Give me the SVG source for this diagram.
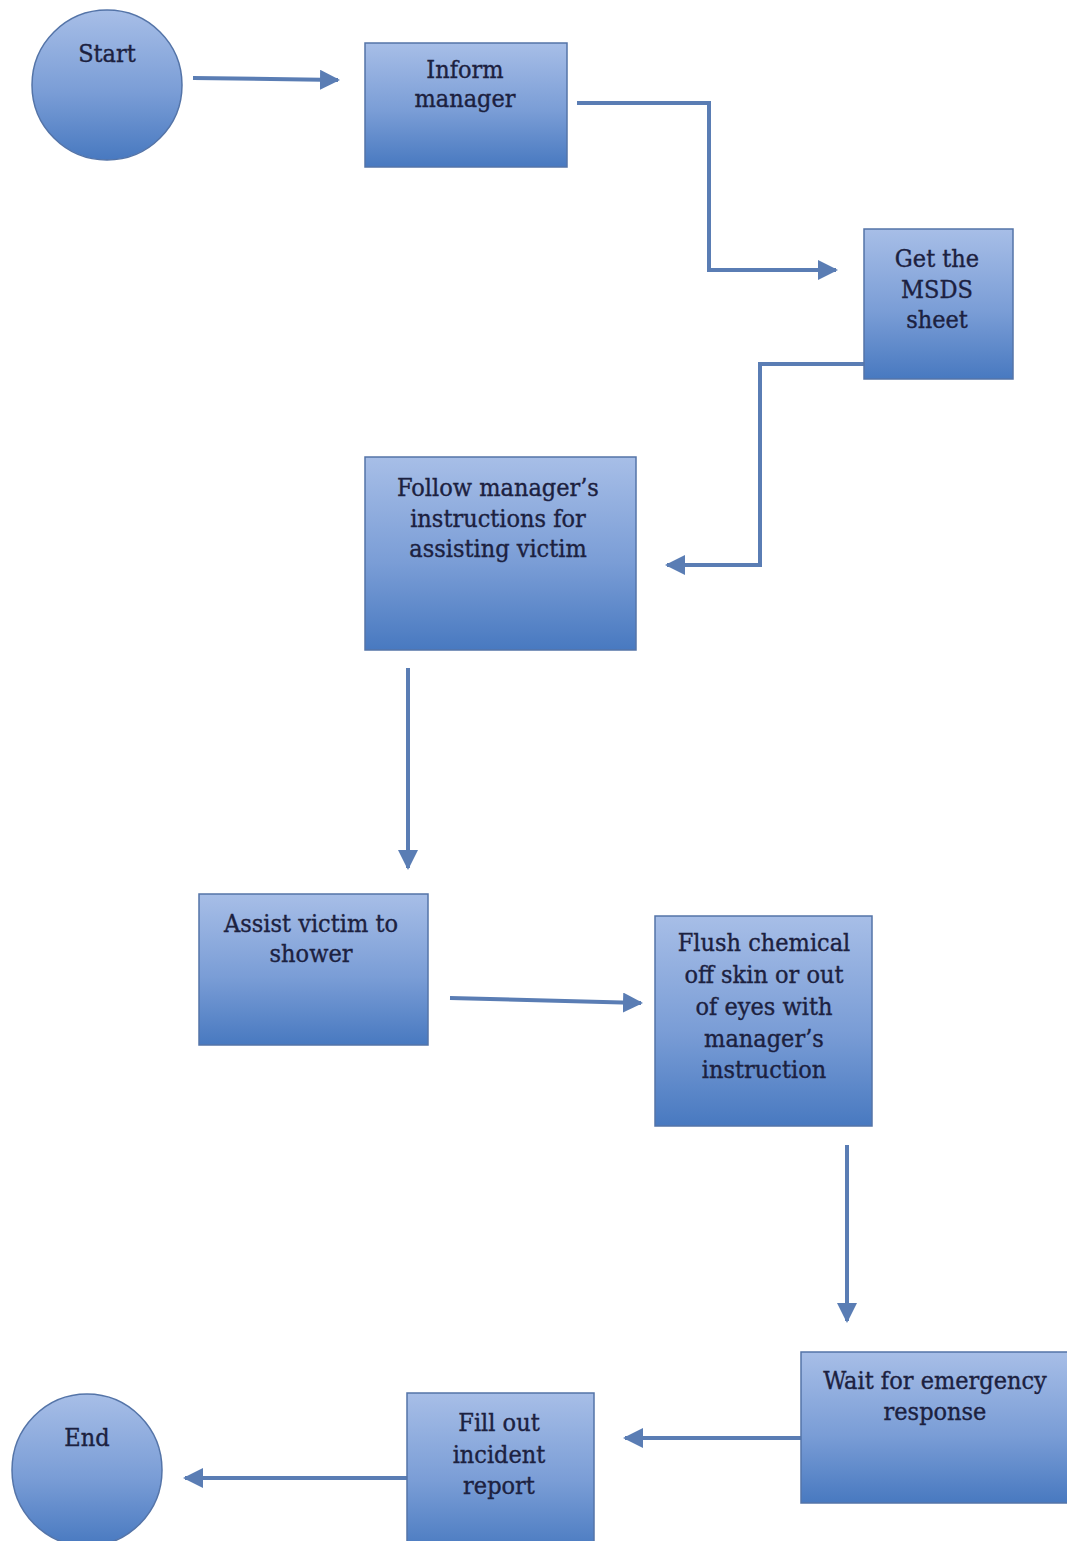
<svg xmlns="http://www.w3.org/2000/svg" width="1067" height="1541" viewBox="0 0 1067 1541">
  <defs>
    <linearGradient id="fillBlue" x1="0" y1="0" x2="0" y2="1">
      <stop offset="0" stop-color="#a7bee7"/>
      <stop offset="0.55" stop-color="#7a9dd6"/>
      <stop offset="1" stop-color="#4879c0"/>
    </linearGradient>
    <marker id="arrow" viewBox="0 0 10 10" refX="9" refY="5" markerWidth="5" markerHeight="5" orient="auto" markerUnits="strokeWidth">
      <path d="M0,0 L10,5 L0,10 Z" fill="#5a7db4"/>
    </marker>
    <style>
      .shape { fill: url(#fillBlue); stroke: #5474a8; stroke-width: 1.5; }
      .label { font-family: "DejaVu Serif Condensed", "DejaVu Serif", serif; font-size: 25px; fill: #1c2140; stroke: #1c2140; stroke-width: 0.35; text-anchor: middle; }
      .conn { fill: none; stroke: #5a7db4; stroke-width: 4; marker-end: url(#arrow); }
    </style>
  </defs>
  <rect width="1067" height="1541" fill="#ffffff"/>

  <g id="connectors">
    <path class="conn" d="M193,78 L338,80"/>
    <path class="conn" d="M577,103 L709,103 L709,270 L836,270"/>
    <path class="conn" d="M864,364 L760,364 L760,565 L667,565"/>
    <path class="conn" d="M408,668 L408,868"/>
    <path class="conn" d="M450,998 L641,1003"/>
    <path class="conn" d="M847,1145 L847,1321"/>
    <path class="conn" d="M801,1438 L625,1438"/>
    <path class="conn" d="M407,1478 L185,1478"/>
  </g>

  <g id="start">
    <ellipse class="shape" cx="107" cy="85" rx="75" ry="75"/>
    <text class="label" x="107" y="62">Start</text>
  </g>

  <g id="inform-manager">
    <rect class="shape" x="365" y="43" width="202" height="124"/>
    <text class="label" x="465" y="78">Inform</text>
    <text class="label" x="465" y="107">manager</text>
  </g>

  <g id="get-msds">
    <rect class="shape" x="864" y="229" width="149" height="150"/>
    <text class="label" x="937" y="267">Get the</text>
    <text class="label" x="937" y="298">MSDS</text>
    <text class="label" x="937" y="328">sheet</text>
  </g>

  <g id="follow-instructions">
    <rect class="shape" x="365" y="457" width="271" height="193"/>
    <text class="label" x="498" y="496">Follow manager’s</text>
    <text class="label" x="498" y="527">instructions for</text>
    <text class="label" x="498" y="557">assisting victim</text>
  </g>

  <g id="assist-shower">
    <rect class="shape" x="199" y="894" width="229" height="151"/>
    <text class="label" x="311" y="932">Assist victim to</text>
    <text class="label" x="311" y="962">shower</text>
  </g>

  <g id="flush-chemical">
    <rect class="shape" x="655" y="916" width="217" height="210"/>
    <text class="label" x="764" y="951">Flush chemical</text>
    <text class="label" x="764" y="983">off skin or out</text>
    <text class="label" x="764" y="1015">of eyes with</text>
    <text class="label" x="764" y="1047">manager’s</text>
    <text class="label" x="764" y="1078">instruction</text>
  </g>

  <g id="wait-response">
    <rect class="shape" x="801" y="1352" width="270" height="151"/>
    <text class="label" x="935" y="1389">Wait for emergency</text>
    <text class="label" x="935" y="1420">response</text>
  </g>

  <g id="incident-report">
    <rect class="shape" x="407" y="1393" width="187" height="160"/>
    <text class="label" x="499" y="1431">Fill out</text>
    <text class="label" x="499" y="1463">incident</text>
    <text class="label" x="499" y="1494">report</text>
  </g>

  <g id="end">
    <ellipse class="shape" cx="87" cy="1470" rx="75" ry="76"/>
    <text class="label" x="87" y="1446">End</text>
  </g>
</svg>
